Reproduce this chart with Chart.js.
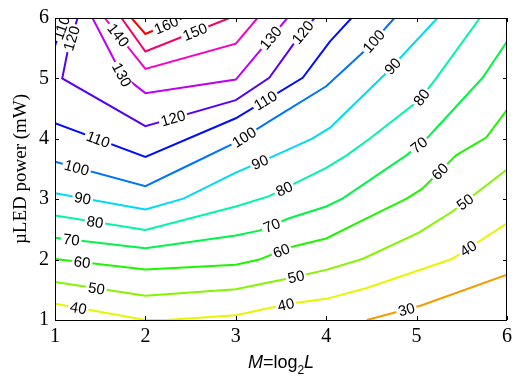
<!DOCTYPE html>
<html>
<head>
<meta charset="utf-8">
<script src="https://cdn.jsdelivr.net/npm/chart.js@4.4.1/dist/chart.umd.min.js"></script>
<style>
html, body { margin: 0; padding: 0; background: #fff; }
#wrap { width: 526px; height: 379px; }
</style>
</head>
<body>
<div id="wrap"><canvas id="contourChart"></canvas></div>
<script>
// contour lines, [M, power] pairs
const c30 = [[4.45,1.0],[5.05,1.24],[6,1.75]];
const c40 = [[1,1.27],[2,1.0],[2.23,1.0],[3,1.08],[3.59,1.27],[4,1.35],[4.45,1.53],[5.05,1.835],[5.39,2.01],[6,2.60]];
const c50 = [[1,1.63],[2,1.40],[3,1.51],[3.59,1.69],[4,1.83],[4.40,2.01],[5.03,2.45],[5.40,2.80],[6,3.49]];
const c60 = [[1,2.01],[2,1.835],[3,1.915],[3.26,2.0],[3.59,2.20],[4,2.35],[4.39,2.64],[4.89,3.01],[5.06,3.17],[5.44,3.73],[5.77,4.02],[6,4.48]];
const c70 = [[1,2.36],[2,2.19],[3,2.40],[3.26,2.48],[3.59,2.685],[4,2.88],[4.18,3.01],[4.89,3.73],[5.11,4.0],[5.73,5.01],[6,5.61]];
const c80 = [[1,2.73],[2,2.49],[3,2.88],[3.37,3.05],[4,3.52],[4.23,3.73],[4.48,4.0],[5.03,4.64],[5.22,5.01],[5.70,6]];
const c90 = [[1,3.10],[2,2.83],[2.42,3.01],[3,3.44],[3.37,3.68],[3.84,4.0],[4.04,4.18],[4.645,5.06],[5.23,6]];
const c100 = [[1,3.62],[2,3.215],[2.49,3.57],[3,3.94],[3.37,4.29],[4,4.87],[4.45,5.49],[4.755,6]];
const c110 = [[1,4.26],[2,3.70],[3,4.34],[3.74,5.01],[4.04,5.61],[4.28,6]];
const c110b = [[1,5.54],[1.11,6]];
const c120 = [[1.25,6],[1.14,5.45],[1.08,5.0],[2,4.21],[3,4.64],[3.37,5.01],[3.68,5.655],[3.87,6]];
const c130 = [[1.415,6],[1.74,5.06],[2,4.756],[3,4.98],[3.57,6]];
const c140 = [[1.55,6],[2,5.157],[3,5.575],[3.24,6]];
const c150 = [[1.735,6],[2,5.446],[2.93,6]];
const c160 = [[1.846,6],[2,5.735],[2.41,6]];

const pieceLevels = [30, 40, 50, 60, 70, 80, 90, 100, 110, 110, 120, 130, 140, 150, 160];
const piecePoints = [c30, c40, c50, c60, c70, c80, c90, c100, c110, c110b, c120, c130, c140, c150, c160];

// inline contour labels
const labelLevel = [160, 150, 140, 130, 130, 120, 120, 120, 110, 110, 110, 100, 100, 100,
  90, 90, 90, 80, 80, 80, 70, 70, 70, 60, 60, 60, 50, 50, 50, 40, 40, 40, 30];
const labelX = [2.24, 2.545, 1.68, 1.71, 3.37, 1.215, 2.30, 3.76, 1.05, 1.46, 3.35, 1.24, 3.07, 4.53,
  1.30, 3.28, 4.79, 1.44, 3.52, 5.05, 1.18, 3.41, 5.03, 1.30, 3.52, 5.29, 1.46, 3.67, 5.55, 1.25, 3.56, 5.585, 4.89];
const labelY = [5.85, 5.78, 5.69, 5.01, 5.69, 5.65, 4.37, 5.74, 5.85, 3.92, 4.58, 3.52, 4.08, 5.61,
  2.96, 3.57, 5.125, 2.605, 3.215, 4.69, 2.33, 2.525, 3.89, 1.96, 2.09, 3.41, 1.53, 1.69, 2.93, 1.13, 1.21, 2.155, 1.16];

const tickValues = [1, 2, 3, 4, 5, 6];

function levelColor(v) {
    const h = 38 + (v - 30) * 2.48;
    return 'hsl(' + h + ', 100%, 48%)';
}

const datasets = piecePoints.map((pts, i) => ({
    label: String(pieceLevels[i]),
    data: pts.map(p => ({ x: p[0], y: p[1] })),
    showLine: true,
    borderColor: levelColor(pieceLevels[i]),
    borderWidth: 2,
    pointRadius: 0,
    tension: 0,
}));

const labelPlugin = {
    id: 'contourLabels',
    afterDatasetsDraw(chart) {
        const { ctx, chartArea, scales: { x, y } } = chart;
        ctx.save();
        ctx.beginPath();
        ctx.rect(chartArea.left, chartArea.top, chartArea.right - chartArea.left, chartArea.bottom - chartArea.top);
        ctx.clip();
        ctx.font = '15px "Liberation Sans", Arial, sans-serif';
        ctx.textAlign = 'center';
        ctx.textBaseline = 'middle';
        labelLevel.forEach((lv, i) => {
            const px = x.getPixelForValue(labelX[i]);
            const py = y.getPixelForValue(labelY[i]);
            let best = null;
            piecePoints.forEach((pts, j) => {
                if (pieceLevels[j] !== lv) return;
                for (let k = 0; k < pts.length - 1; k++) {
                    const ax = x.getPixelForValue(pts[k][0]), ay = y.getPixelForValue(pts[k][1]);
                    const bx = x.getPixelForValue(pts[k + 1][0]), by = y.getPixelForValue(pts[k + 1][1]);
                    const dx = bx - ax, dy = by - ay;
                    let t = ((px - ax) * dx + (py - ay) * dy) / (dx * dx + dy * dy);
                    t = Math.max(0, Math.min(1, t));
                    const qx = ax + t * dx, qy = ay + t * dy;
                    const d = (qx - px) ** 2 + (qy - py) ** 2;
                    if (!best || d < best.d) best = { d, qx, qy, ang: Math.atan2(dy, dx) };
                }
            });
            let ang = best.ang;
            if (ang > Math.PI / 2) ang -= Math.PI;
            if (ang < -Math.PI / 2) ang += Math.PI;
            const txt = String(lv);
            const w = ctx.measureText(txt).width;
            ctx.save();
            ctx.translate(best.qx, best.qy);
            ctx.rotate(ang);
            ctx.fillStyle = '#fff';
            ctx.fillRect(-w / 2 - 2, -5, w + 4, 10);
            ctx.fillStyle = '#000';
            ctx.fillText(txt, 0, 1);
            ctx.restore();
        });
        ctx.restore();
    }
};

const framePlugin = {
    id: 'frame',
    afterDraw(chart) {
        const { ctx, chartArea: a, scales: { x, y } } = chart;
        ctx.save();
        ctx.strokeStyle = '#000';
        ctx.lineWidth = 1;
        ctx.strokeRect(a.left + 0.5, a.top + 0.5, a.right - a.left - 1, a.bottom - a.top);
        ctx.beginPath();
        tickValues.forEach(v => {
            const px = Math.round(x.getPixelForValue(v)) + 0.5;
            ctx.moveTo(px, a.bottom); ctx.lineTo(px, a.bottom - 4);
            ctx.moveTo(px, a.top); ctx.lineTo(px, a.top + 4);
            const py = Math.round(y.getPixelForValue(v)) + 0.5;
            ctx.moveTo(a.left, py); ctx.lineTo(a.left + 4, py);
            ctx.moveTo(a.right, py); ctx.lineTo(a.right - 4, py);
        });
        ctx.stroke();

        // x axis title: M=log2L
        const cx = (a.left + a.right) / 2;
        const base = 368;
        const parts = [
            ['italic 18px "Liberation Sans", Arial, sans-serif', 'M', 0],
            ['18px "Liberation Sans", Arial, sans-serif', '=log', 0],
            ['12px "Liberation Sans", Arial, sans-serif', '2', 6],
            ['italic 18px "Liberation Sans", Arial, sans-serif', 'L', 0],
        ];
        let total = 0;
        parts.forEach(p => { ctx.font = p[0]; total += ctx.measureText(p[1]).width; });
        let xx = cx - total / 2;
        ctx.fillStyle = '#000';
        ctx.textAlign = 'left';
        ctx.textBaseline = 'alphabetic';
        parts.forEach(p => {
            ctx.font = p[0];
            ctx.fillText(p[1], xx, base + p[2]);
            xx += ctx.measureText(p[1]).width;
        });
        ctx.restore();
    }
};

const serif = '"Liberation Serif", "Times New Roman", serif';

const config = {
    type: 'scatter',
    data: { datasets: datasets },
    options: {
        responsive: true,
        maintainAspectRatio: false,
        animation: false,
        layout: { padding: { top: 8, right: 19, left: 0, bottom: 0 } },
        plugins: {
            legend: { display: false },
            tooltip: { enabled: false },
        },
        scales: {
            x: {
                type: 'linear',
                min: 1,
                max: 6,
                afterBuildTicks: s => { s.ticks = tickValues.map(v => ({ value: v })); },
                ticks: { color: '#000', font: { family: serif, size: 20 }, padding: 5, maxRotation: 0 },
                grid: { display: false, drawTicks: false },
                border: { display: false },
                afterFit: s => { s.height = 59; },
            },
            y: {
                type: 'linear',
                min: 1,
                max: 6,
                afterBuildTicks: s => { s.ticks = tickValues.map(v => ({ value: v })); },
                ticks: { color: '#000', font: { family: serif, size: 20 }, padding: 6 },
                grid: { display: false, drawTicks: false },
                border: { display: false },
                title: {
                    display: true,
                    text: '\u00b5LED power (mW)',
                    color: '#000',
                    font: { family: serif, size: 19 },
                    padding: { top: 10, bottom: 0 },
                },
                afterFit: s => { s.width = 55; },
            },
        },
    },
    plugins: [labelPlugin, framePlugin],
};

const contourChart = new Chart(
    document.getElementById('contourChart'),
    config
);
</script>
</body>
</html>
